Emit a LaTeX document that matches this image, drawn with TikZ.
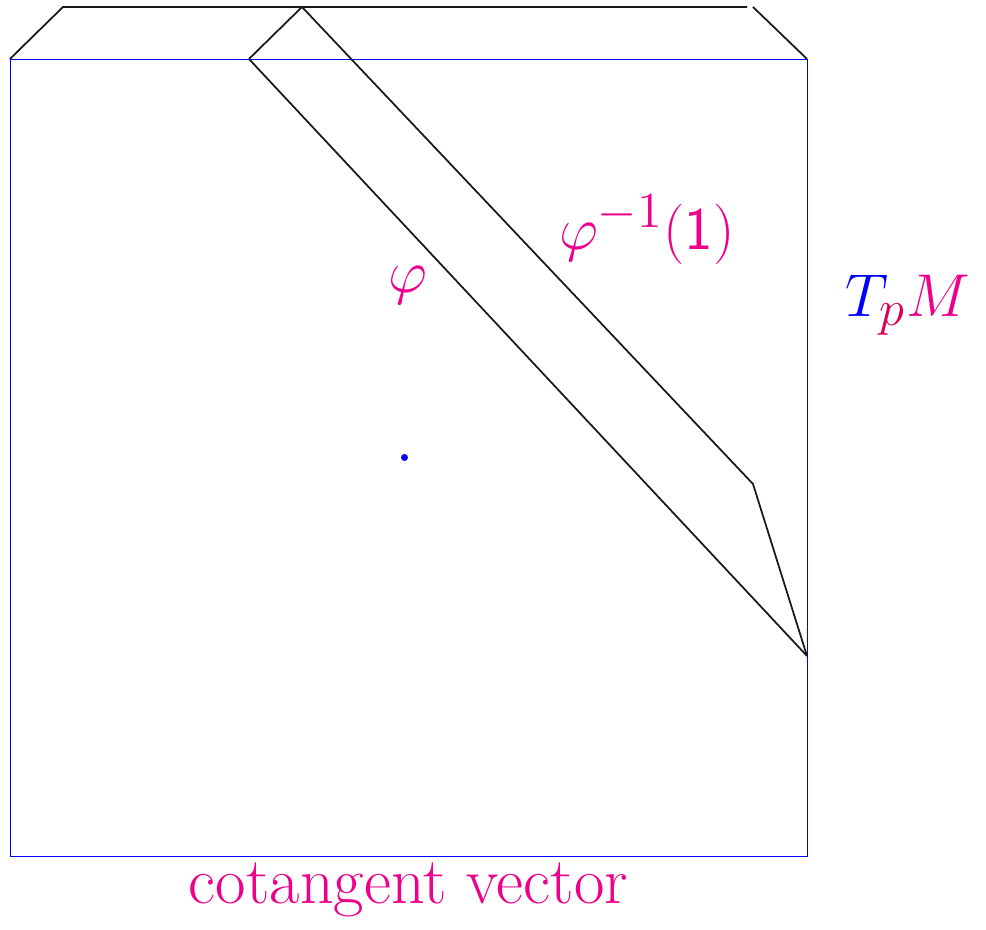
\documentclass[tikz,border=0pt]{standalone}
\definecolor{lblmag}{RGB}{236,0,140}
\definecolor{subred}{RGB}{220,0,80}
\begin{document}
\begin{tikzpicture}
	\tikzstyle{frame} = [blue, line width=0.25pt]
	\tikzstyle{edge} = [black!90, line width=0.5pt]
	\tikzstyle{lbl} = [text=lblmag, font=\fontsize{18.9}{22}\selectfont, inner sep=0pt]

	\useasboundingbox (-0.1,-0.733) rectangle (9.797,8.592);

	% the square
	\draw[frame] (0,0) rectangle (8,8);
	\fill[blue] (3.96,4.0) circle (0.035);

	% corner points
	\coordinate (TL) at (0,8);
	\coordinate (TR) at (8,8);
	\coordinate (A) at (0.532,8.522);
	\coordinate (B) at (7.398,8.522);
	\coordinate (C) at (7.458,8.522);
	\coordinate (P) at (2.399,8);
	\coordinate (Q) at (2.931,8.522);
	\coordinate (R) at (7.458,3.734);
	\coordinate (S) at (8,2.008);

	% top lid
	\draw[edge] (TL) -- (A) -- (B);
	\draw[edge] (C) -- (TR);

	% the band
	\draw[edge] (P) -- (Q) -- (R) -- (S);
	\draw[edge] (P) -- (S);

	% labels
	\node[lbl] (phi) at (3.995,5.73) {$\varphi$};
	\node[lbl] (phiinv) at (6.394,6.283) {$\varphi^{-1}(\mathsf{1})$};
	\node[lbl] (TpM) at (9.01,5.53) {$\color{blue}T_{\color{subred}p}\color{lblmag}M$};
	\node[lbl] (cov) at (4.0,-0.34) {cotangent vector};

\end{tikzpicture}
\end{document}
